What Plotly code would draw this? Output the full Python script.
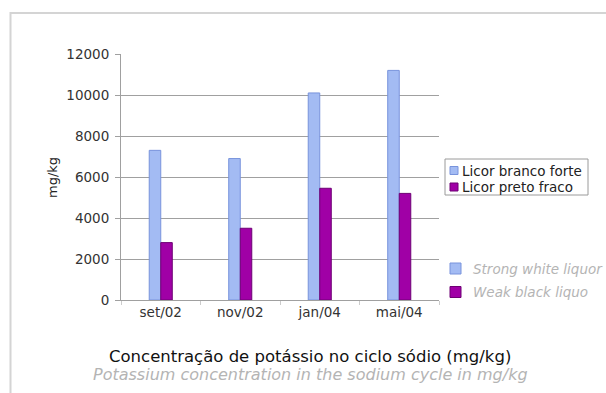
import plotly.graph_objects as go

# Potassium concentration in the sodium cycle (mg/kg)
periods = ["set/02", "nov/02", "jan/04", "mai/04"]
strong_white = [7300, 6900, 10100, 11200]
weak_black = [2800, 3500, 5450, 5200]
series_pt = ["Licor branco forte", "Licor preto fraco"]
series_en = ["Strong white liquor", "Weak black liquo"]
y_ticks = [0, 2000, 4000, 6000, 8000, 10000, 12000]

BLUE = "#a3bbf3"
BLUE_EDGE = "#7893dc"
PURPLE = "#a000a6"
PURPLE_EDGE = "#6e0074"
FONT = "DejaVu Sans"

W, H = 606, 393
L, R, T, B = 121, 439, 54, 300  # plot area in pixels


def px(x):
    return (x - L) / (R - L)


def py(y):
    return (B - y) / (B - T)


fig = go.Figure()
fig.add_trace(go.Bar(x=periods, y=strong_white, name=series_pt[0],
                     marker=dict(color=BLUE, line=dict(color=BLUE_EDGE, width=1))))
fig.add_trace(go.Bar(x=periods, y=weak_black, name=series_pt[1],
                     marker=dict(color=PURPLE, line=dict(color=PURPLE_EDGE, width=1))))

shapes = []
annotations = []

# outer frame
shapes.append(dict(type="rect", xref="paper", yref="paper",
                   x0=px(10.5), x1=px(640), y0=py(420), y1=py(13),
                   line=dict(color="#d4d4d4", width=2), fillcolor="rgba(0,0,0,0)",
                   layer="below"))

# boxed legend (Portuguese)
shapes.append(dict(type="rect", xref="paper", yref="paper",
                   x0=px(445), x1=px(588), y0=py(195), y1=py(159),
                   line=dict(color="#9a9a9a", width=1), fillcolor="white"))
for i, (name, col, edge) in enumerate(zip(series_pt, [BLUE, PURPLE], [BLUE_EDGE, PURPLE_EDGE])):
    yc = 170.5 + i * 16.5
    shapes.append(dict(type="rect", xref="paper", yref="paper",
                       x0=px(450), x1=px(458), y0=py(yc + 4), y1=py(yc - 4),
                       line=dict(color=edge, width=1), fillcolor=col))
    annotations.append(dict(text=name, xref="paper", yref="paper",
                            x=px(460), y=py(yc), xanchor="left", yanchor="middle",
                            showarrow=False, font=dict(family=FONT, size=13.5, color="#222222")))

# English legend
for i, (name, col, edge) in enumerate(zip(series_en, [BLUE, PURPLE], [BLUE_EDGE, PURPLE_EDGE])):
    yc = 268.5 + i * 23.5
    shapes.append(dict(type="rect", xref="paper", yref="paper",
                       x0=px(450), x1=px(461), y0=py(yc + 5.5), y1=py(yc - 5.5),
                       line=dict(color=edge, width=1), fillcolor=col))
    annotations.append(dict(text=f"<i>{name}</i>", xref="paper", yref="paper",
                            x=px(471), y=py(yc), xanchor="left", yanchor="middle",
                            showarrow=False, font=dict(family=FONT, size=13.5, color="#b4b4b4")))

# titles below the chart
annotations.append(dict(text="Concentração de potássio no ciclo sódio (mg/kg)",
                        xref="paper", yref="paper", x=px(310), y=py(356),
                        xanchor="center", yanchor="middle", showarrow=False,
                        font=dict(family=FONT, size=16.5, color="#111111")))
annotations.append(dict(text="<i>Potassium concentration in the sodium cycle in mg/kg</i>",
                        xref="paper", yref="paper", x=px(310), y=py(374),
                        xanchor="center", yanchor="middle", showarrow=False,
                        font=dict(family=FONT, size=16, color="#b4b4b4")))

# y-axis title
annotations.append(dict(text="mg/kg", xref="paper", yref="paper", x=px(52), y=py(178),
                        xanchor="center", yanchor="middle", textangle=-90, showarrow=False,
                        font=dict(family=FONT, size=13, color="#222222")))

fig.update_layout(
    width=W, height=H,
    margin=dict(l=L, r=W - R, t=T, b=H - B, pad=0),
    paper_bgcolor="white", plot_bgcolor="white",
    barmode="group", bargap=0.71, bargroupgap=0,
    showlegend=False,
    shapes=shapes, annotations=annotations,
    font=dict(family=FONT, size=13, color="#333333"),
)
fig.update_yaxes(range=[0, 12000], tickvals=y_ticks, ticktext=[str(v) for v in y_ticks],
                 showgrid=True, gridcolor="#a0a0a0", gridwidth=1,
                 showline=True, linecolor="#a0a0a0", linewidth=1,
                 ticks="outside", ticklen=5, tickcolor="#a0a0a0", ticklabelstandoff=3,
                 tickfont=dict(family=FONT, size=13.5, color="#333333"), zeroline=False)
fig.update_xaxes(showline=True, linecolor="#a0a0a0", linewidth=1,
                 ticks="outside", ticklen=4, tickcolor="#cccccc", tickson="boundaries",
                 tickfont=dict(family=FONT, size=13.5, color="#333333"), showgrid=False)

fig.write_html("out.html")
